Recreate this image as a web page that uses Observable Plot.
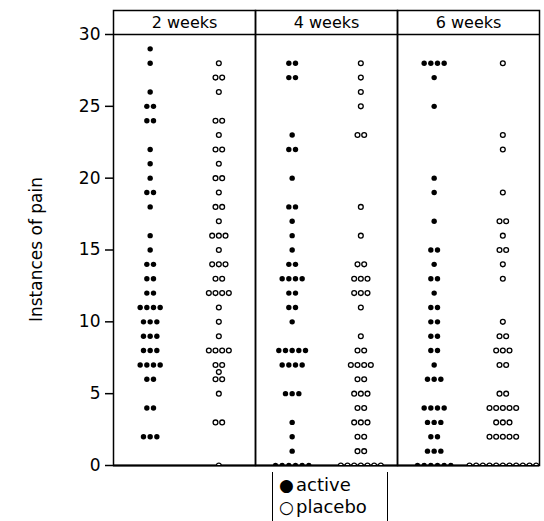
<!DOCTYPE html>
<html><head><meta charset="utf-8">
<script src="https://cdn.jsdelivr.net/npm/d3@7"></script>
<script src="https://cdn.jsdelivr.net/npm/@observablehq/plot@0.6"></script>
<style>
body{margin:0;background:#fff;font-family:"DejaVu Sans",sans-serif;}
#wrap{position:relative;width:544px;height:521px;overflow:hidden;background:#fff;}
#chart{position:absolute;left:0;top:0;}
#legend{position:absolute;left:272px;top:472px;height:49px;border-left:1.5px solid #000;border-right:1.5px solid #000;padding:2px 20px 0 6px;font-size:18px;line-height:21px;color:#000;}
#legend .sym{display:inline-block;width:17px;font-size:17px;}
</style></head><body>
<div id="wrap"><div id="chart"></div><div id="legend"></div></div>
<script>
const weeks = ["2 weeks", "4 weeks", "6 weeks"];
const groups = ["active", "placebo"];
const yTicks = [0, 5, 10, 15, 20, 25, 30];
const yLabel = "Instances of pain";

// Instances of pain per patient (one entry per dot)
const active2 = [29,28,26,25,25,24,24,22,21,20,19,19,18,16,15,14,14,13,13,12,12,11,11,11,11,10,10,10,9,9,9,8,8,8,7,7,7,7,6,6,4,4,2,2,2];
const placebo2 = [28,27,27,26,24,24,23,22,22,21,20,20,19,18,18,17,16,16,16,15,14,14,14,13,13,12,12,12,12,11,10,9,8,8,8,8,7,7,6.5,6,6,5,3,3,0];
const active4 = [28,28,27,27,23,22,22,20,18,18,17,16,15,14,14,13,13,13,13,12,12,11,11,10,8,8,8,8,8,7,7,7,7,5,5,5,3,2,1,0,0,0,0,0,0];
const placebo4 = [28,27,26,25,23,23,18,16,14,14,13,13,13,12,12,12,11,9,8,8,7,7,7,7,6,6,5,5,5,4,4,3,3,3,2,2,1,1,0,0,0,0,0,0,0];
const active6 = [28,28,28,28,27,25,20,19,17,15,15,14,13,13,12,11,11,10,10,9,9,8,8,7,6,6,6,4,4,4,4,3,3,3,2,2,1,1,1,0,0,0,0,0,0];
const placebo6 = [28,23,22,19,17,17,16,15,15,14,13,10,9,9,8,8,8,7,7,5,5,4,4,4,4,4,3,3,3,2,2,2,2,2,0,0,0,0,0,0,0,0,0,0,0];

// column centre of each group inside a panel (in dot-width units)
const groupCenter = {active: 5.5, placebo: 15.8};

const rows = [];
for (const [week, group, values] of [
  [weeks[0], groups[0], active2], [weeks[0], groups[1], placebo2],
  [weeks[1], groups[0], active4], [weeks[1], groups[1], placebo4],
  [weeks[2], groups[0], active6], [weeks[2], groups[1], placebo6]
]) {
  const counts = d3.rollup(values, v => v.length, v => v);
  const seen = new Map();
  for (const v of values) {
    const n = counts.get(v);
    const k = seen.get(v) ?? 0;
    seen.set(v, k + 1);
    rows.push({week, group, value: v, slot: groupCenter[group] + k - (n - 1) / 2});
  }
}

const plot = Plot.plot({
  width: 544,
  height: 480,
  marginLeft: 112,
  marginRight: 4,
  marginTop: 34,
  marginBottom: 15,
  style: {fontFamily: "DejaVu Sans, sans-serif", color: "#000", background: "transparent"},
  fx: {domain: weeks, padding: 0, label: null},
  x: {domain: [0, 21.3], axis: null},
  y: {domain: [0, 30], label: null},
  marks: [
    Plot.frame({insetTop: -24, stroke: "#000", strokeWidth: 1.5}),
    Plot.ruleY([30], {stroke: "#000", strokeWidth: 1.3}),
    Plot.ruleY([0], {stroke: "#000", strokeWidth: 2.2}),
    Plot.axisFx({anchor: "top", tickSize: 0, tickPadding: 7, fontSize: 16, label: null}),
    Plot.axisY({ticks: yTicks, tickSize: 8, tickPadding: 5, fontSize: 17, strokeWidth: 1.5, label: null}),
    Plot.dot(rows.filter(d => d.group === "active"),
      {fx: "week", x: "slot", y: "value", r: 2.7, fill: "#000", stroke: "none", clip: true}),
    Plot.dot(rows.filter(d => d.group === "placebo"),
      {fx: "week", x: "slot", y: "value", r: 2.4, fill: "#fff", stroke: "#000", strokeWidth: 1.3, clip: true})
  ]
});
document.getElementById("chart").appendChild(plot);

// rotated y-axis title, centred on the y scale's range
const ys = plot.scale("y");
const yMid = (ys.apply(0) + ys.apply(30)) / 2;
d3.select(plot).append("text")
  .attr("transform", `translate(36,${yMid}) rotate(-90)`)
  .attr("text-anchor", "middle")
  .attr("dominant-baseline", "central")
  .attr("font-family", "DejaVu Sans, sans-serif")
  .attr("font-size", 17)
  .attr("fill", "#000")
  .text(yLabel);

const legend = document.getElementById("legend");
legend.innerHTML = groups.map(g =>
  `<div><span class="sym">${g === "active" ? "●" : "○"}</span>${g}</div>`).join("");
</script>
</body></html>
